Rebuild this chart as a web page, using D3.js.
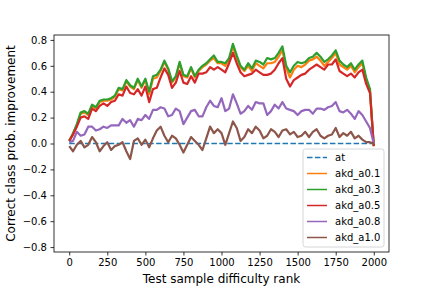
<!DOCTYPE html>
<html>
<head>
<meta charset="utf-8">
<script src="https://cdn.jsdelivr.net/npm/d3@7"></script>
<style>
  body { margin: 0; background: #fff; }
  svg { display: block; font-family: "DejaVu Sans", sans-serif; }
</style>
</head>
<body>
<div id="chart"></div>
<script>
// sample rank, read every 25 samples
var ranks = d3.range(0, 2001, 25);

var seriesNames = ["at", "akd_a0.1", "akd_a0.3", "akd_a0.5", "akd_a0.8", "akd_a1.0"];
var seriesColors = ["#1f77b4", "#ff7f0e", "#2ca02c", "#d62728", "#9467bd", "#8c564b"];

var atVals = ranks.map(function () { return 0; });

var a01Vals = [0.02, 0.07, 0.14, 0.23, 0.24, 0.22, 0.29, 0.27, 0.32, 0.33, 0.33, 0.34, 0.36, 0.42, 0.41, 0.48,
  0.44, 0.42, 0.49, 0.43, 0.49, 0.38, 0.50, 0.51, 0.56, 0.63, 0.57, 0.47, 0.51, 0.62, 0.52, 0.51,
  0.58, 0.51, 0.56, 0.59, 0.61, 0.64, 0.66, 0.62, 0.62, 0.60, 0.65, 0.75, 0.66, 0.59, 0.56, 0.60,
  0.56, 0.62, 0.60, 0.58, 0.62, 0.62, 0.63, 0.67, 0.72, 0.58, 0.51, 0.57, 0.60, 0.59, 0.61, 0.64,
  0.65, 0.67, 0.64, 0.60, 0.63, 0.66, 0.70, 0.61, 0.59, 0.57, 0.60, 0.55, 0.59, 0.62, 0.49, 0.41, -0.02];

var a03Vals = [0.02, 0.08, 0.15, 0.24, 0.25, 0.23, 0.30, 0.28, 0.33, 0.34, 0.34, 0.35, 0.37, 0.43, 0.42, 0.49,
  0.45, 0.43, 0.50, 0.44, 0.50, 0.40, 0.52, 0.53, 0.57, 0.64, 0.58, 0.48, 0.52, 0.63, 0.53, 0.52,
  0.59, 0.52, 0.57, 0.60, 0.62, 0.65, 0.68, 0.63, 0.63, 0.62, 0.66, 0.77, 0.68, 0.60, 0.57, 0.62,
  0.58, 0.64, 0.63, 0.61, 0.66, 0.65, 0.66, 0.70, 0.75, 0.60, 0.55, 0.60, 0.63, 0.62, 0.63, 0.66,
  0.67, 0.70, 0.67, 0.63, 0.65, 0.68, 0.72, 0.64, 0.61, 0.59, 0.62, 0.57, 0.61, 0.64, 0.51, 0.42, -0.02];

var a05Vals = [0.02, 0.07, 0.13, 0.20, 0.21, 0.19, 0.27, 0.25, 0.29, 0.31, 0.29, 0.32, 0.33, 0.38, 0.37, 0.44,
  0.39, 0.38, 0.42, 0.37, 0.44, 0.32, 0.42, 0.43, 0.51, 0.58, 0.53, 0.43, 0.47, 0.56, 0.47, 0.46,
  0.52, 0.47, 0.54, 0.54, 0.55, 0.59, 0.57, 0.59, 0.57, 0.55, 0.62, 0.70, 0.62, 0.55, 0.52, 0.53,
  0.54, 0.57, 0.55, 0.53, 0.53, 0.54, 0.57, 0.62, 0.66, 0.50, 0.44, 0.49, 0.51, 0.53, 0.54, 0.57,
  0.59, 0.61, 0.59, 0.57, 0.61, 0.61, 0.65, 0.56, 0.54, 0.52, 0.54, 0.51, 0.55, 0.57, 0.46, 0.39, -0.02];

var a08Vals = [0.01, 0.02, 0.09, 0.06, 0.07, 0.13, 0.13, 0.10, 0.11, 0.13, 0.12, 0.14, 0.14, 0.14, 0.19, 0.16,
  0.18, 0.13, 0.19, 0.18, 0.22, 0.19, 0.26, 0.26, 0.28, 0.27, 0.21, 0.22, 0.27, 0.25, 0.15, 0.20,
  0.25, 0.26, 0.21, 0.21, 0.28, 0.33, 0.29, 0.28, 0.35, 0.25, 0.27, 0.38, 0.31, 0.23, 0.25, 0.29,
  0.26, 0.32, 0.31, 0.31, 0.22, 0.25, 0.30, 0.27, 0.32, 0.27, 0.26, 0.25, 0.22, 0.25, 0.26, 0.26,
  0.23, 0.27, 0.27, 0.26, 0.28, 0.29, 0.32, 0.25, 0.24, 0.26, 0.23, 0.19, 0.25, 0.22, 0.17, 0.12, 0.00];

var a10Vals = [-0.02, -0.06, -0.01, 0.02, -0.03, -0.01, 0.05, 0.01, -0.06, -0.02, 0.01, -0.05, -0.02, -0.01, 0.01, -0.06,
  -0.12, 0.02, 0.04, -0.01, 0.03, -0.03, 0.04, 0.10, 0.13, 0.06, 0.01, 0.06, 0.04, -0.01, -0.07, -0.01,
  0.05, 0.02, -0.01, -0.05, 0.04, 0.13, 0.08, 0.11, 0.08, -0.01, 0.08, 0.17, 0.12, 0.02, 0.05, 0.11,
  0.08, 0.13, 0.10, 0.04, 0.06, 0.11, 0.09, 0.05, 0.10, 0.11, 0.07, 0.09, 0.05, 0.06, 0.09, 0.05,
  0.09, 0.11, 0.06, 0.04, 0.06, 0.07, 0.12, 0.05, 0.08, 0.06, 0.09, 0.04, 0.06, 0.03, 0.01, 0.01, 0.00];

var seriesValues = [atVals, a01Vals, a03Vals, a05Vals, a08Vals, a10Vals];

var xTicks = [0, 250, 500, 750, 1000, 1250, 1500, 1750, 2000];
var yTicks = [-0.8, -0.6, -0.4, -0.2, 0.0, 0.2, 0.4, 0.6, 0.8];

var width = 432, height = 288;
var margin = {top: 35, right: 43, bottom: 36, left: 54};

var svg = d3.select("#chart").append("svg")
    .attr("width", width)
    .attr("height", height);

var plotW = width - margin.left - margin.right;
var plotH = height - margin.top - margin.bottom;

var xScale = d3.scaleLinear().domain([-100, 2100]).range([0, plotW]);
var yScale = d3.scaleLinear().domain([-0.838, 0.838]).range([plotH, 0]);

var g = svg.append("g")
    .attr("transform", "translate(" + margin.left + "," + margin.top + ")");

g.append("defs").append("clipPath").attr("id", "clip")
  .append("rect").attr("width", plotW).attr("height", plotH);

var line = d3.line()
    .x(function (d, i) { return xScale(ranks[i]); })
    .y(function (d) { return yScale(d); });

var lines = g.append("g").attr("clip-path", "url(#clip)");
seriesValues.forEach(function (vals, k) {
    lines.append("path")
        .datum(vals)
        .attr("fill", "none")
        .attr("stroke", seriesColors[k])
        .attr("stroke-width", k === 0 ? 1.5 : 2.2)
        .attr("stroke-linejoin", "round")
        .attr("stroke-dasharray", k === 0 ? "5.5,2.4" : null)
        .attr("d", line);
});

var fmtY = function (d) { return d3.format(".1f")(d).replace("-", "\u2212"); };

var xAxis = g.append("g")
    .attr("transform", "translate(0," + plotH + ")")
    .call(d3.axisBottom(xScale).tickValues(xTicks).tickFormat(d3.format("d")).tickSize(3.5).tickPadding(3.5));
var yAxis = g.append("g")
    .call(d3.axisLeft(yScale).tickValues(yTicks).tickFormat(fmtY).tickSize(3.5).tickPadding(3.5));

[xAxis, yAxis].forEach(function (ax) {
    ax.select(".domain").remove();
    ax.selectAll("line").attr("stroke", "#000").attr("stroke-width", 0.8);
    ax.selectAll("text").attr("font-size", 10).attr("fill", "#000")
        .attr("font-family", "DejaVu Sans, sans-serif");
});

// frame
g.append("rect")
    .attr("width", plotW).attr("height", plotH)
    .attr("fill", "none").attr("stroke", "#000").attr("stroke-width", 0.8);

// axis labels
svg.append("text")
    .attr("x", margin.left + plotW / 2).attr("y", 283)
    .attr("text-anchor", "middle").attr("font-size", 12)
    .text("Test sample difficulty rank");
svg.append("text")
    .attr("transform", "translate(15," + (margin.top + plotH / 2) + ") rotate(-90)")
    .attr("text-anchor", "middle").attr("font-size", 12)
    .text("Correct class prob. improvement");

// legend
var legend = svg.append("g").attr("transform", "translate(303,149)");
legend.append("rect")
    .attr("width", 81).attr("height", 98).attr("rx", 2.5)
    .attr("fill", "#fff").attr("fill-opacity", 0.8)
    .attr("stroke", "#cccccc").attr("stroke-width", 0.8);
seriesNames.forEach(function (name, k) {
    var row = legend.append("g").attr("transform", "translate(0," + (8.5 + k * 16) + ")");
    row.append("line")
        .attr("x1", 4).attr("x2", 24)
        .attr("stroke", seriesColors[k]).attr("stroke-width", 1.5)
        .attr("stroke-dasharray", k === 0 ? "5.5,2.4" : null);
    row.append("text")
        .attr("x", 32).attr("y", 3.5)
        .attr("font-size", 10)
        .text(name);
});
</script>
</body>
</html>
